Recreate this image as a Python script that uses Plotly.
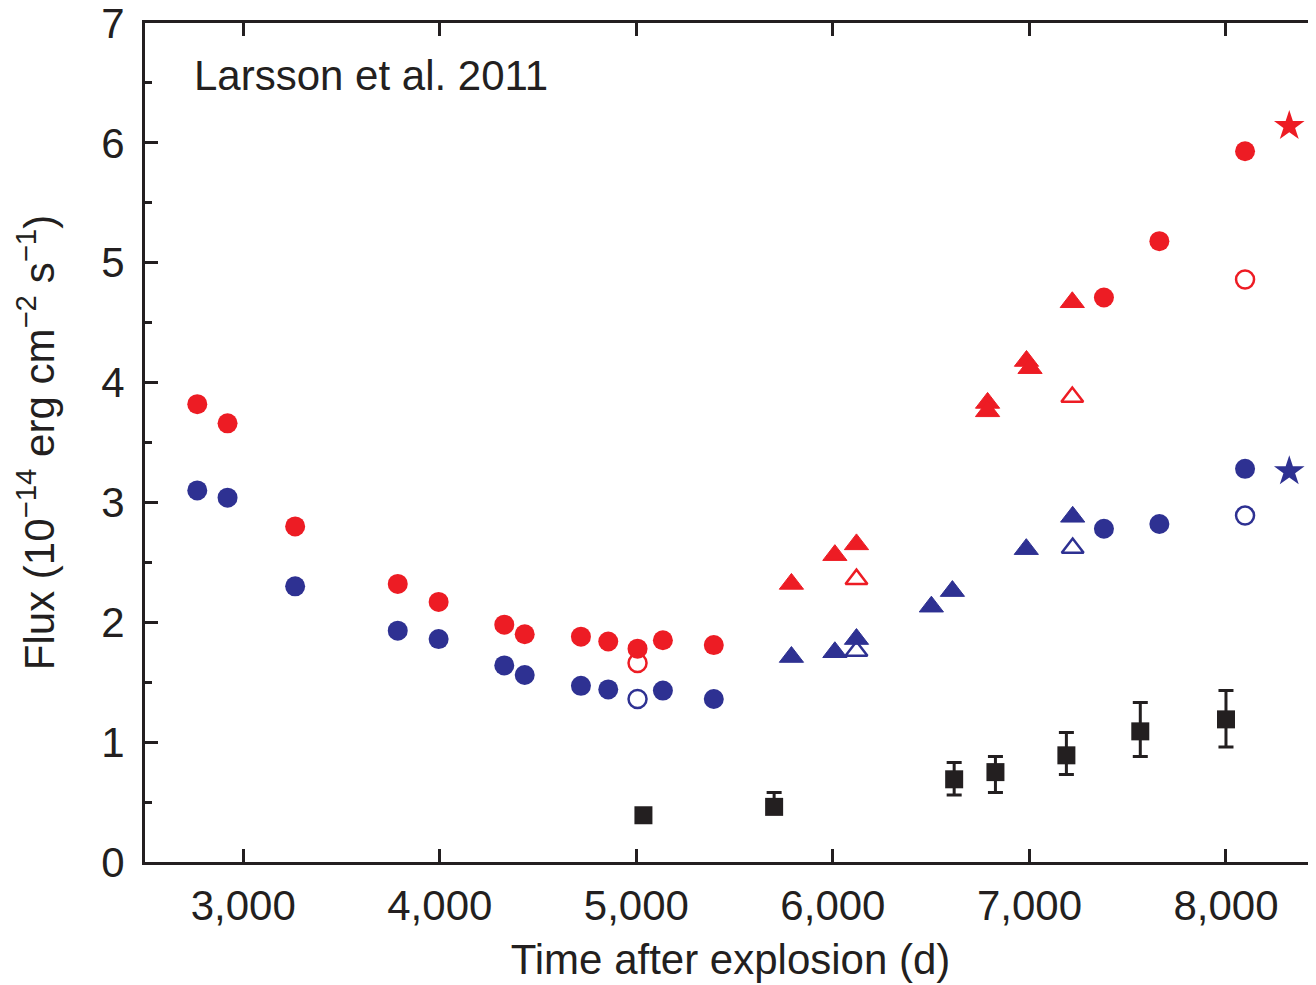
import plotly.graph_objects as go

RED = "#ED1C24"
BLUE = "#2E3192"
BLACK = "#231F20"
FONT = "Liberation Sans, Arial, sans-serif"

# Red filled circles
red_circ_x = [2766, 2920, 3264, 3786, 3994, 4328, 4432, 4718, 4857, 5006, 5135, 5394, 7379, 7661, 8097]
red_circ_y = [3.82, 3.66, 2.80, 2.32, 2.17, 1.98, 1.90, 1.88, 1.84, 1.78, 1.85, 1.81, 4.71, 5.18, 5.93]
# Blue filled circles
blue_circ_x = [2766, 2920, 3264, 3786, 3994, 4328, 4432, 4718, 4857, 5135, 5394, 7379, 7661, 8097]
blue_circ_y = [3.10, 3.04, 2.30, 1.93, 1.86, 1.64, 1.56, 1.47, 1.44, 1.43, 1.36, 2.78, 2.82, 3.28]
# Open circles
red_open_circ_x = [5006, 8097]
red_open_circ_y = [1.66, 4.86]
blue_open_circ_x = [5006, 8097]
blue_open_circ_y = [1.36, 2.89]
# Filled triangles
red_tri_x = [5789, 6010, 6120, 6787, 6787, 6985, 7003, 7218]
red_tri_y = [2.32, 2.56, 2.65, 3.83, 3.76, 4.18, 4.12, 4.67]
blue_tri_x = [5789, 6010, 6120, 6501, 6608, 6984, 7220]
blue_tri_y = [1.71, 1.75, 1.86, 2.13, 2.26, 2.61, 2.88]
# Open triangles
red_open_tri_x = [6120, 7218]
red_open_tri_y = [2.36, 3.88]
blue_open_tri_x = [6120, 7220]
blue_open_tri_y = [1.76, 2.62]
# Stars
red_star_x = [8322]
red_star_y = [6.14]
blue_star_x = [8322]
blue_star_y = [3.26]
# Black squares with asymmetric errors
sq_x = [5036, 5701, 6617, 6827, 7188, 7564, 8000]
sq_y = [0.39, 0.46, 0.69, 0.75, 0.89, 1.09, 1.19]
sq_err_plus = [0.02, 0.12, 0.14, 0.13, 0.19, 0.24, 0.24]
sq_err_minus = [0.02, 0.04, 0.13, 0.17, 0.16, 0.21, 0.23]

# Axis ticks
x_tick_vals = [3000, 4000, 5000, 6000, 7000, 8000]
x_tick_text = ["3,000", "4,000", "5,000", "6,000", "7,000", "8,000"]
y_tick_vals = [0, 1, 2, 3, 4, 5, 6, 7]

fig = go.Figure()

def add(x, y, symbol, color, size, line_w=0, line_color=None):
    fig.add_trace(go.Scatter(
        x=x, y=y, mode="markers", showlegend=False, hoverinfo="skip",
        cliponaxis=False,
        marker=dict(symbol=symbol, color=color, size=size,
                    line=dict(width=line_w, color=line_color or color))))

add(red_circ_x, red_circ_y, "circle", RED, 20)
add(blue_circ_x, blue_circ_y, "circle", BLUE, 20)
add(red_open_circ_x, red_open_circ_y, "circle-open", RED, 18, 2.5)
add(blue_open_circ_x, blue_open_circ_y, "circle-open", BLUE, 18, 2.5)
add(red_tri_x, red_tri_y, "triangle-up", RED, 21, 1)
add(blue_tri_x, blue_tri_y, "triangle-up", BLUE, 21, 1)
add(red_open_tri_x, red_open_tri_y, "triangle-up-open", RED, 19, 2.5)
add(blue_open_tri_x, blue_open_tri_y, "triangle-up-open", BLUE, 19, 2.5)
add(red_star_x, red_star_y, "star", RED, 23)
add(blue_star_x, blue_star_y, "star", BLUE, 23)

fig.add_trace(go.Scatter(
    x=sq_x, y=sq_y, mode="markers", showlegend=False, hoverinfo="skip",
    marker=dict(symbol="square", color=BLACK, size=18, line=dict(width=0)),
    error_y=dict(type="data", symmetric=False, array=sq_err_plus,
                 arrayminus=sq_err_minus, color=BLACK, thickness=3, width=7.5)))

# invisible trace for the right-side axis
fig.add_trace(go.Scatter(x=[None], y=[None], yaxis="y2", showlegend=False))

fig.add_annotation(
    text="Larsson et al. 2011", x=0.040, xref="paper", xanchor="left",
    y=6.56, yref="y", yanchor="middle", showarrow=False,
    font=dict(family=FONT, size=42, color=BLACK))

# The page body has an 8 px default margin, so the figure is sized 8 px smaller.
fig.update_layout(
    width=1308, height=977,
    margin=dict(l=137, r=0, t=14.5, b=122.7, autoexpand=False),
    paper_bgcolor="white", plot_bgcolor="white",
    font=dict(family=FONT, color=BLACK),
    xaxis=dict(
        range=[2500, 8458], tickvals=x_tick_vals, ticktext=x_tick_text,
        ticks="inside", ticklen=13, tickwidth=3, tickcolor=BLACK,
        showline=True, linewidth=3, linecolor=BLACK, mirror="ticks",
        showgrid=False, zeroline=False, automargin=False,
        tickfont=dict(family=FONT, size=42, color=BLACK),
        ticklabelstandoff=5, ticklabeloverflow="allow",
        title=dict(text="Time after explosion (d)", standoff=17,
                   font=dict(family=FONT, size=42, color=BLACK)),
    ),
    yaxis=dict(
        range=[0, 7], tickvals=y_tick_vals,
        ticks="inside", ticklen=13, tickwidth=3, tickcolor=BLACK,
        minor=dict(ticks="inside", ticklen=7, tickwidth=3, dtick=0.5, tickcolor=BLACK, showgrid=False),
        showline=True, linewidth=3, linecolor=BLACK, mirror=False,
        showgrid=False, zeroline=False, automargin=False,
        tickfont=dict(family=FONT, size=42, color=BLACK),
        ticklabelstandoff=9, ticklabeloverflow="allow",
        title=dict(text="Flux (10<sup>\u221214</sup> erg cm<sup>\u22122</sup> s<sup>\u22121</sup>)",
                   standoff=34, font=dict(family=FONT, size=42, color=BLACK)),
    ),
    yaxis2=dict(
        range=[0, 7], tickvals=y_tick_vals, overlaying="y", side="right", anchor="x",
        ticks="inside", ticklen=5, tickwidth=3, tickcolor=BLACK, automargin=False,
        showticklabels=False, showline=False, showgrid=False, zeroline=False,
    ),
)

fig.write_html("out.html")
